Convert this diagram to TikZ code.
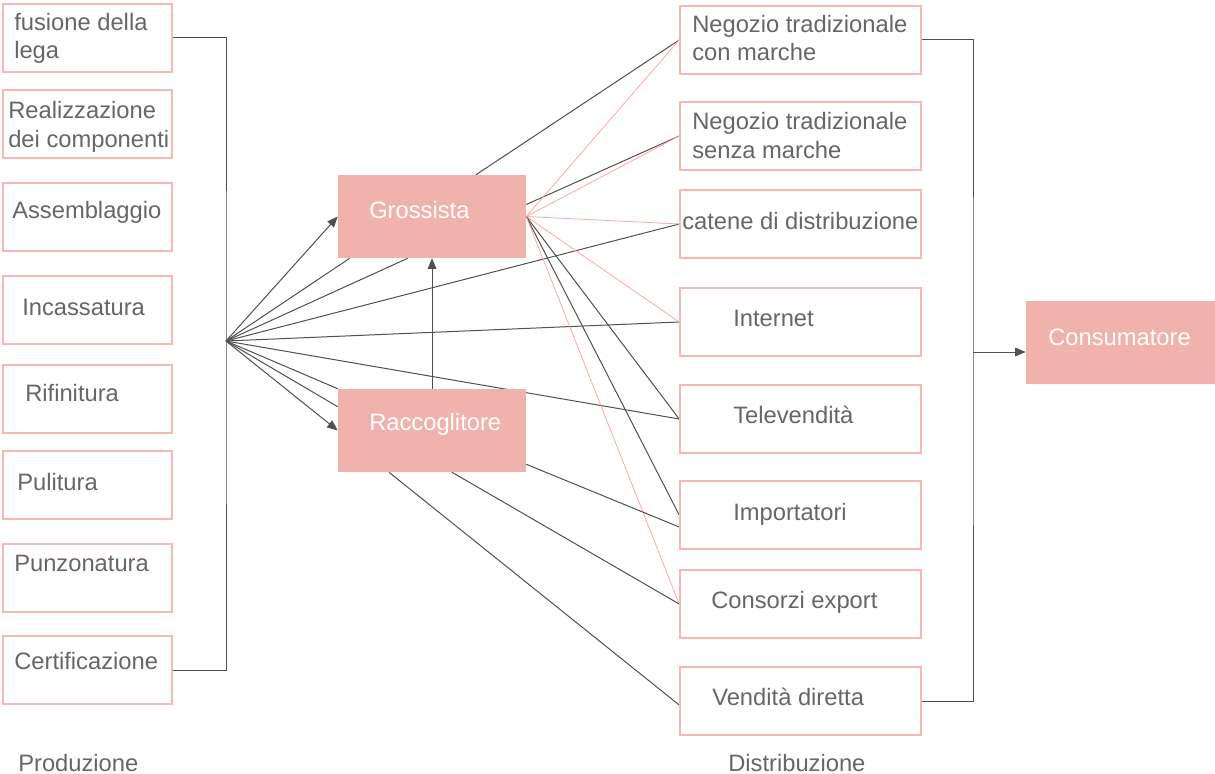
\documentclass[tikz,border=0pt]{standalone}
\usepackage{fontspec}
\setmainfont{Liberation Sans}
\usetikzlibrary{arrows.meta,backgrounds}

\definecolor{rosa}{RGB}{240,178,173}
\definecolor{bordo}{RGB}{245,185,180}
\definecolor{lrosa}{RGB}{247,170,165}
\definecolor{grigio}{RGB}{102,102,102}
\definecolor{scuro}{RGB}{80,80,80}

\begin{document}
\begin{tikzpicture}[x=0.75pt, y=-0.75pt,
			fase/.style = {rectangle,draw=bordo,line width=1.2pt,minimum width=126.75pt,minimum height=51pt,inner sep=0pt},
			canale/.style = {fase,minimum width=180.75pt},
			attore/.style = {rectangle,fill=rosa,minimum width=141pt,minimum height=62.25pt,inner sep=0pt},
			lbl/.style = {text=grigio,font=\fontsize{17.8}{21.4}\selectfont,inner sep=0pt,anchor=base west,align=left},
			wlbl/.style = {lbl,text=white},
			filo/.style = {draw=scuro,line width=0.75pt},
			rfilo/.style = {draw=lrosa,line width=0.6pt},
			freccia/.style = {filo,-{Triangle[length=8pt,width=6.5pt]}}]

\useasboundingbox (0,0) rectangle (1215,774);

% produzione
\node[fase] (f1) at (87.5,38) {};
\node[fase] (f2) at (87.5,124) {};
\node[fase] (f3) at (87.5,217) {};
\node[fase] (f4) at (87.5,310) {};
\node[fase] (f5) at (87.5,399) {};
\node[fase] (f6) at (87.5,485) {};
\node[fase] (f7) at (87.5,578) {};
\node[fase] (f8) at (87.5,670) {};

\node[lbl] (tf1) at (14,59) {fusione della\\lega};
\node[lbl] (tf2) at (8,147) {Realizzazione\\dei componenti};
\node[lbl] (tf3) at (12,218) {Assemblaggio};
\node[lbl] (tf4) at (22,315) {Incassatura};
\node[lbl] (tf5) at (25,401) {Rifinitura};
\node[lbl] (tf6) at (17,490) {Pulitura};
\node[lbl] (tf7) at (14,571) {Punzonatura};
\node[lbl] (tf8) at (14,669) {Certificazione};

% intermediari
\node[attore] (gross) at (432,216.5) {};
\node[attore] (racc) at (432,430.5) {};
\node[wlbl] (tgross) at (369,218) {Grossista};
\node[wlbl] (tracc) at (369,430) {Raccoglitore};

% distribuzione
\node[canale] (neg1) at (800.5,40) {};
\node[canale] (neg2) at (800.5,136) {};
\node[canale] (catene) at (800.5,224) {};
\node[canale] (internet) at (800.5,322) {};
\node[canale] (tele) at (800.5,419) {};
\node[canale] (impo) at (800.5,515) {};
\node[canale] (consorzi) at (800.5,604) {};
\node[canale] (vendita) at (800.5,701) {};

\node[lbl] (tneg1) at (692,61) {Negozio tradizionale\\con marche};
\node[lbl] (tneg2) at (692,158) {Negozio tradizionale\\senza marche};
\node[lbl] (tcatene) at (682,229) {catene di distribuzione};
\node[lbl] (tinternet) at (733,326) {Internet};
\node[lbl] (ttele) at (733,423) {Televendità};
\node[lbl] (timpo) at (733,520) {Importatori};
\node[lbl] (tconsorzi) at (711,608) {Consorzi export};
\node[lbl] (tvendita) at (712,705) {Vendità diretta};

\node[attore,minimum width=141.75pt] (cons) at (1120.5,342.5) {};
\node[wlbl] (tcons) at (1048,345) {Consumatore};

\node[lbl] (prod) at (18,771) {Produzione};
\node[lbl] (distr) at (728,771) {Distribuzione};

\coordinate (hub) at (226,341);
\coordinate (rhub) at (973,352);

\begin{scope}[on background layer]
\draw[filo] (f1.east) -| (hub) |- (f8.east);

\draw[freccia] (hub) -- (gross.west);
\draw[filo] (hub) -- ([xshift=9pt]gross.south west);
\draw[filo] (hub) -- ([xshift=52.5pt]gross.south west);
\draw[filo] (hub) -- (catene.west);
\draw[filo] (hub) -- (internet.west);
\draw[filo] (hub) -- (tele.west);
\draw[filo] (hub) -- (racc.north west);
\draw[filo] (hub) -- ([yshift=-13.5pt]racc.north west);
\draw[freccia] (hub) -- (racc.west);

\draw[freccia] (racc.north) -- (gross.south);

% grossista
\draw[filo] ([xshift=33pt]gross.north) -- (neg1.west);
\draw[filo] ([yshift=9pt]gross.east) -- (neg2.west);
\draw[rfilo] (gross.east) -- (neg1.west);
\draw[rfilo] (gross.east) -- (neg2.west);
\draw[rfilo] (gross.east) -- (catene.west);
\draw[rfilo] (gross.east) -- (internet.west);
\draw[filo] (gross.east) -- (tele.west);
\draw[filo] (gross.east) -- (impo.west);
\draw[rfilo] (gross.east) -- (consorzi.west);

% raccoglitore
\draw[filo] ([yshift=6pt]racc.south east) -- ([yshift=-9pt]impo.west);
\draw[filo] ([xshift=15pt]racc.south) -- (consorzi.west);
\draw[filo] ([xshift=-32.25pt]racc.south) -- ([yshift=-3pt]vendita.west);

\draw[filo] (neg1.east) -| (rhub) |- (vendita.east);
\draw[freccia] (rhub) -- (rhub -| cons.west);
\end{scope}

\end{tikzpicture}
\end{document}
